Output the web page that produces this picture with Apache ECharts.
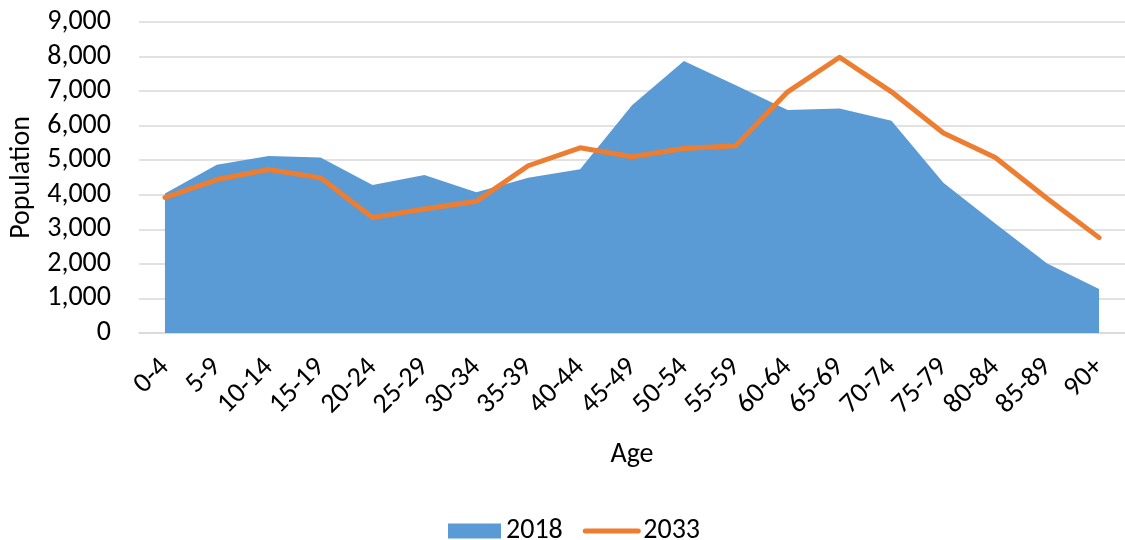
<!DOCTYPE html>
<html>
<head>
<meta charset="utf-8">
<script src="https://cdn.jsdelivr.net/npm/echarts@6/dist/echarts.min.js"></script>
<style>
  html, body { margin: 0; padding: 0; background: #fff; }
  #main { width: 1125px; height: 540px; }
</style>
</head>
<body>
<div id="main"></div>
<script>
// age groups
var ages = ['0-4','5-9','10-14','15-19','20-24','25-29','30-34','35-39','40-44','45-49',
            '50-54','55-59','60-64','65-69','70-74','75-79','80-84','85-89','90+'];
// population 2018 (area) and projected 2033 (line)
var pop2018 = [4040,4870,5120,5080,4280,4570,4070,4490,4740,6590,
               7870,7170,6450,6500,6140,4350,3170,2010,1270];
var pop2033 = [3920,4440,4730,4490,3340,3590,3810,4840,5360,5100,
               5340,5420,6980,7980,6980,5790,5080,3890,2760];
var yTicks = [0,1000,2000,3000,4000,5000,6000,7000,8000,9000];

var font = 'Carlito, Calibri, "Liberation Sans", sans-serif';

var chart = echarts.init(document.getElementById('main'));
chart.setOption({
    backgroundColor:'#fff',
    animation:false,
    textStyle:{fontFamily:font},
    grid:{left:139, top:22, width:990, height:311},
    legend:{
        left:443,
        top:512,
        itemWidth:53,
        itemHeight:15,
        itemGap:20,
        textStyle:{fontSize:28, color:'#000', fontFamily:font},
        data:[
            {name:'2018', icon:'rect', itemStyle:{color:'#5b9bd5'}},
            {name:'2033', itemStyle:{opacity:0}, lineStyle:{width:5, cap:'round', color:'#ed7d31'}}
        ]
    },
    xAxis:{
        type:'category',
        data:ages,
        boundaryGap:true,
        name:'Age',
        nameLocation:'middle',
        nameGap:108,
        nameTextStyle:{fontSize:28, color:'#000', fontFamily:font},
        axisLine:{lineStyle:{color:'#d9d9d9', width:1.5}},
        axisTick:{show:false},
        axisLabel:{rotate:45, fontSize:28, color:'#000', margin:30, interval:0, fontFamily:font}
    },
    yAxis:{
        type:'value',
        min:yTicks[0],
        max:yTicks[yTicks.length-1],
        interval:1000,
        name:'Population',
        nameLocation:'middle',
        nameGap:98,
        nameTextStyle:{fontSize:28, color:'#000', fontFamily:font},
        axisLine:{show:false},
        axisTick:{show:false},
        axisLabel:{
            fontSize:28, color:'#000', margin:28, fontFamily:font,
            formatter:function(v){ return v.toLocaleString('en-US'); }
        },
        splitLine:{lineStyle:{color:'#d9d9d9', width:1.5}}
    },
    series:[
        {
            name:'2018',
            type:'line',
            data:pop2018,
            symbol:'none',
            lineStyle:{width:0},
            itemStyle:{color:'#5b9bd5'},
            areaStyle:{color:'#5b9bd5', opacity:1}
        },
        {
            name:'2033',
            type:'line',
            data:pop2033,
            symbol:'none',
            itemStyle:{color:'#ed7d31'},
            lineStyle:{color:'#ed7d31', width:5, cap:'round', join:'round'}
        }
    ]
});
</script>
</body>
</html>
